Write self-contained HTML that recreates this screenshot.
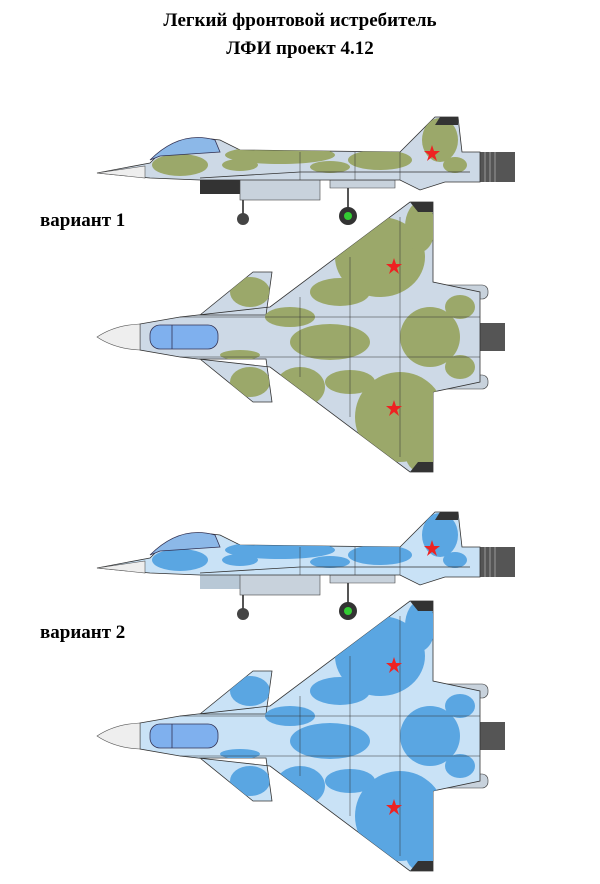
<!DOCTYPE html>
<html><head><meta charset="utf-8"><style>
html,body{margin:0;padding:0;background:#fff}
body{width:600px;height:884px;position:relative;overflow:hidden;font-family:"Liberation Serif",serif}
.t{position:absolute;left:0;width:600px;text-align:center;font-weight:bold;font-size:19px}
.v{position:absolute;left:40px;font-weight:bold;font-size:19px}
svg{position:absolute;left:0;top:0}
</style></head><body>
<div class="t" style="top:10px">Легкий фронтовой истребитель</div>
<div class="t" style="top:38px">ЛФИ проект 4.12</div>
<div class="v" style="top:210px">вариант 1</div>
<div class="v" style="top:622px">вариант 2</div>
<svg width="600" height="884" viewBox="0 0 600 884">
<defs>
<clipPath id="sideclip"><path d="M97,173 L150,163 L165,148 Q190,135 220,140 L240,150 L400,152 L435,117 L458,117 L462,152 L480,152 L480,182 L445,182 L420,190 L400,180 L240,180 L200,180 L150,178 Z"/></clipPath>
<clipPath id="topclip"><path d="M140,-13 L180,-20 L270,-30 L410,-135 L433,-135 L433,-55 L480,-45 L480,45 L433,55 L433,135 L410,135 L270,30 L180,20 L140,13 Z M200,-22 L253,-65 L272,-65 L266,-22 Z M200,22 L253,65 L272,65 L266,22 Z"/></clipPath>
<g id="side">
 <rect x="480" y="152" width="35" height="30" fill="#555"/>
 <g stroke="#999" stroke-width="1"><line x1="485" y1="152" x2="485" y2="182"/><line x1="490" y1="152" x2="490" y2="182"/><line x1="495" y1="152" x2="495" y2="182"/></g>
 <line x1="243" y1="190" x2="243" y2="215" stroke="#555" stroke-width="2"/>
 <line x1="348" y1="182" x2="348" y2="212" stroke="#555" stroke-width="2"/>
 <circle cx="243" cy="219" r="6" fill="#444"/>
 <circle cx="348" cy="216" r="9" fill="#333"/><circle cx="348" cy="216" r="4" fill="#3c3"/>
 <rect x="200" y="178" width="40" height="16" fill="var(--intake)"/>
 <rect x="240" y="178" width="80" height="22" fill="#c8d2dc" stroke="#444" stroke-width=".6"/>
 <path d="M330,180 L395,180 L395,188 L330,188 Z" fill="#c8d2dc" stroke="#444" stroke-width=".6"/>
 <path d="M97,173 L150,163 L165,148 Q190,135 220,140 L240,150 L400,152 L435,117 L458,117 L462,152 L480,152 L480,182 L445,182 L420,190 L400,180 L240,180 L200,180 L150,178 Z" fill="var(--c2)" stroke="#333" stroke-width=".8"/>
 <g clip-path="url(#sideclip)" fill="var(--c1)">
  <ellipse cx="180" cy="165" rx="28" ry="11"/><ellipse cx="280" cy="155" rx="55" ry="9"/><ellipse cx="380" cy="160" rx="32" ry="10"/><ellipse cx="440" cy="140" rx="18" ry="22"/><ellipse cx="240" cy="165" rx="18" ry="6"/><ellipse cx="330" cy="167" rx="20" ry="6"/><ellipse cx="455" cy="165" rx="12" ry="8"/>
 </g>
 <path d="M97,173 L145,166 L145,178 Z" fill="#eee" stroke="#555" stroke-width=".6"/>
 <path d="M150,160 Q180,130 215,140 L220,152 L160,156 Z" fill="#8cb8e8" stroke="#335" stroke-width=".8"/>
 <path d="M200,178 L300,172 L470,172" fill="none" stroke="#333" stroke-width=".8"/>
 <path d="M440,117 L458,117 L458,125 L435,125 Z" fill="#333"/>
 <polygon points="432,145 434,151 440,151 435,155 437,161 432,157 427,161 429,155 424,151 430,151" fill="#e22"/>
 <g stroke="#333" stroke-width=".5" fill="none"><line x1="300" y1="152" x2="300" y2="180"/><line x1="355" y1="152" x2="355" y2="180"/><line x1="400" y1="152" x2="400" y2="180"/></g>
</g>
<g id="top">
 <rect x="420" y="-52" width="68" height="14" rx="6" fill="#c8d2dc" stroke="#333" stroke-width=".6"/>
 <rect x="420" y="38" width="68" height="14" rx="6" fill="#c8d2dc" stroke="#333" stroke-width=".6"/>
 <rect x="480" y="-14" width="25" height="28" fill="#555"/>
 <path d="M140,-13 L180,-20 L270,-30 L410,-135 L433,-135 L433,-55 L480,-45 L480,45 L433,55 L433,135 L410,135 L270,30 L180,20 L140,13 Z M200,-22 L253,-65 L272,-65 L266,-22 Z M200,22 L253,65 L272,65 L266,22 Z" fill="var(--c2)" stroke="#333" stroke-width=".8"/>
 <g clip-path="url(#topclip)" fill="var(--c1)">
  <ellipse cx="380" cy="-80" rx="45" ry="40"/><ellipse cx="400" cy="80" rx="45" ry="45"/><ellipse cx="330" cy="5" rx="40" ry="18"/><ellipse cx="430" cy="0" rx="30" ry="30"/><ellipse cx="250" cy="-45" rx="20" ry="15"/><ellipse cx="250" cy="45" rx="20" ry="15"/><ellipse cx="290" cy="-20" rx="25" ry="10"/><ellipse cx="300" cy="50" rx="25" ry="20"/><ellipse cx="420" cy="-110" rx="15" ry="25"/><ellipse cx="420" cy="115" rx="15" ry="20"/><ellipse cx="340" cy="-45" rx="30" ry="14"/><ellipse cx="350" cy="45" rx="25" ry="12"/><ellipse cx="460" cy="-30" rx="15" ry="12"/><ellipse cx="460" cy="30" rx="15" ry="12"/><ellipse cx="240" cy="18" rx="20" ry="5"/>
 </g>
 <path d="M97,0 Q115,-12 140,-13 L140,13 Q115,12 97,0 Z" fill="#eee" stroke="#555" stroke-width=".6"/>
 <rect x="150" y="-12" width="68" height="24" rx="10" fill="#7fb0ee" stroke="#335" stroke-width=".8"/>
 <line x1="172" y1="-12" x2="172" y2="12" stroke="#335" stroke-width=".8"/>
 <g stroke="#333" stroke-width=".5" fill="none"><line x1="180" y1="-20" x2="480" y2="-20"/><line x1="180" y1="20" x2="480" y2="20"/><line x1="350" y1="-80" x2="350" y2="80"/><line x1="400" y1="-120" x2="400" y2="120"/><line x1="300" y1="-40" x2="300" y2="40"/></g>
 <path d="M410,-135 L433,-135 L433,-125 L418,-125 Z" fill="#333"/>
 <path d="M410,135 L433,135 L433,125 L418,125 Z" fill="#333"/>
 <polygon points="394,-79 396,-73 402,-73 397,-69 399,-63 394,-67 389,-63 391,-69 386,-73 392,-73" fill="#e22"/>
 <polygon points="394,63 396,69 402,69 397,73 399,79 394,75 389,79 391,73 386,69 392,69" fill="#e22"/>
</g>
</defs>
<g style="--c1:#9ba86a;--c2:#cdd9e6;--intake:#333"><use href="#side"/></g>
<g style="--c1:#9ba86a;--c2:#cdd9e6" transform="translate(0,337)"><use href="#top"/></g>
<g style="--c1:#5aa6e2;--c2:#c9e2f6;--intake:#b8c8d6" transform="translate(0,395)"><use href="#side"/></g>
<g style="--c1:#5aa6e2;--c2:#c9e2f6" transform="translate(0,736)"><use href="#top"/></g>
</svg>
</body></html>
